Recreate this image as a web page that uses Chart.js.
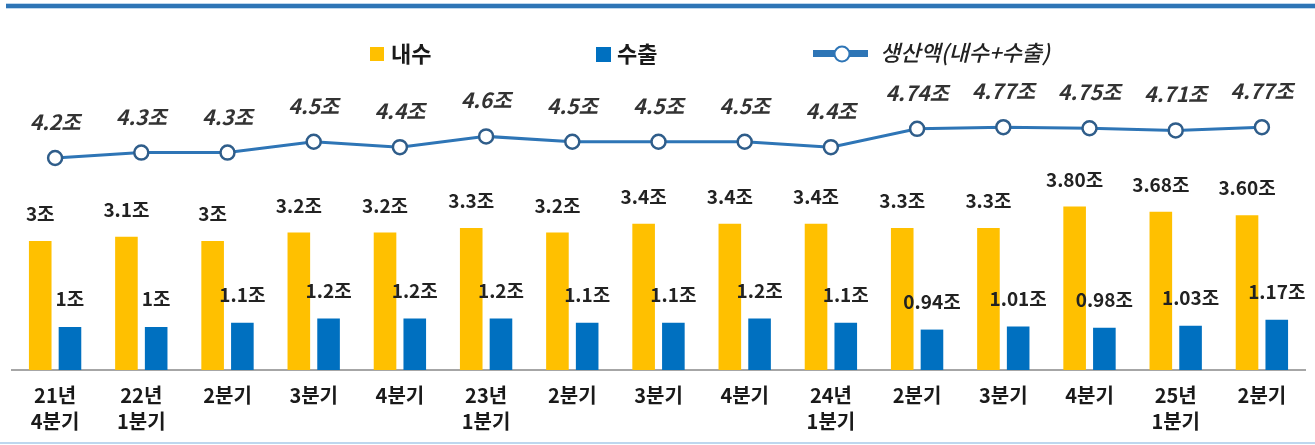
<!DOCTYPE html>
<html>
<head>
<meta charset="utf-8">
<script src="https://cdn.jsdelivr.net/npm/chart.js@4.4.1/dist/chart.umd.min.js"></script>
<style>
  html, body { margin: 0; padding: 0; background: #fff; }
  #wrap { position: relative; width: 1315px; height: 445px; }
</style>
</head>
<body>
<div id="wrap"><canvas id="prodChart" width="1315" height="445"></canvas></div>
<script>
const categories = [
  ["21년", "4분기"], ["22년", "1분기"], "2분기", "3분기", "4분기",
  ["23년", "1분기"], "2분기", "3분기", "4분기",
  ["24년", "1분기"], "2분기", "3분기", "4분기",
  ["25년", "1분기"], "2분기"
];
const domestic = [3, 3.1, 3, 3.2, 3.2, 3.3, 3.2, 3.4, 3.4, 3.4, 3.3, 3.3, 3.80, 3.68, 3.60];
const domesticLabels = ["3조", "3.1조", "3조", "3.2조", "3.2조", "3.3조", "3.2조", "3.4조", "3.4조", "3.4조", "3.3조", "3.3조", "3.80조", "3.68조", "3.60조"];
const exportsVal = [1, 1, 1.1, 1.2, 1.2, 1.2, 1.1, 1.1, 1.2, 1.1, 0.94, 1.01, 0.98, 1.03, 1.17];
const exportLabels = ["1조", "1조", "1.1조", "1.2조", "1.2조", "1.2조", "1.1조", "1.1조", "1.2조", "1.1조", "0.94조", "1.01조", "0.98조", "1.03조", "1.17조"];
const production = [4.2, 4.3, 4.3, 4.5, 4.4, 4.6, 4.5, 4.5, 4.5, 4.4, 4.74, 4.77, 4.75, 4.71, 4.77];
const productionLabels = ["4.2조", "4.3조", "4.3조", "4.5조", "4.4조", "4.6조", "4.5조", "4.5조", "4.5조", "4.4조", "4.74조", "4.77조", "4.75조", "4.71조", "4.77조"];

const FONT = "'Noto Sans CJK KR', 'Noto Sans', sans-serif";
const YELLOW = "#ffc000";
const BLUE = "#0070c0";
const LINE_BLUE = "#2e75b6";

// frame lines at top and bottom of the picture
const framePlugin = {
  id: "frame",
  beforeDraw(chart) {
    const ctx = chart.ctx;
    ctx.save();
    ctx.fillStyle = "#bdd7ee";
    ctx.fillRect(6, 3, 1309, 6);
    ctx.fillStyle = LINE_BLUE;
    ctx.fillRect(6, 4, 1309, 4);
    ctx.fillStyle = "#bdd7ee";
    ctx.fillRect(0, 442, 1315, 2);
    ctx.restore();
  },
};

// value labels above bars and line points
const valueLabelPlugin = {
  id: "valueLabels",
  afterDatasetsDraw(chart) {
    const ctx = chart.ctx;
    const sets = [
      { index: 0, labels: domesticLabels, offset: 27, font: `bold 19px ${FONT}`, color: "#222" },
      { index: 1, labels: exportLabels, offset: 28, font: `bold 19px ${FONT}`, color: "#222" },
      { index: 2, labels: productionLabels, offset: 36, font: `italic bold 21px ${FONT}`, color: "#333" },
    ];
    ctx.save();
    ctx.textAlign = "center";
    ctx.textBaseline = "middle";
    sets.forEach((s) => {
      const meta = chart.getDatasetMeta(s.index);
      ctx.font = s.font;
      ctx.fillStyle = s.color;
      meta.data.forEach((el, i) => {
        ctx.fillText(s.labels[i], el.x, el.y - s.offset);
      });
    });
    ctx.restore();
  },
};

// legend row drawn at the top
const legendPlugin = {
  id: "legendRow",
  afterDraw(chart) {
    const ctx = chart.ctx;
    const ds = chart.data.datasets;
    const cy = 54;
    ctx.save();
    ctx.textBaseline = "middle";
    ctx.textAlign = "left";

    ctx.fillStyle = YELLOW;
    ctx.fillRect(370, cy - 7, 14, 14);
    ctx.fillStyle = "#1a1a1a";
    ctx.font = `bold 22px ${FONT}`;
    ctx.fillText(ds[0].label, 391, cy);

    ctx.fillStyle = BLUE;
    ctx.fillRect(596, cy - 7, 15, 15);
    ctx.fillStyle = "#1a1a1a";
    ctx.fillText(ds[1].label, 617, cy);

    ctx.fillStyle = LINE_BLUE;
    ctx.fillRect(813, cy - 4, 55, 7);
    ctx.beginPath();
    ctx.arc(842, cy, 7.5, 0, Math.PI * 2);
    ctx.fillStyle = "#fff";
    ctx.fill();
    ctx.lineWidth = 2;
    ctx.strokeStyle = LINE_BLUE;
    ctx.stroke();
    ctx.fillStyle = "#222";
    ctx.font = `italic 500 22px ${FONT}`;
    ctx.fillText(ds[2].label, 880, cy - 1);
    ctx.restore();
  },
};

new Chart(document.getElementById("prodChart"), {
  type: "bar",
  data: {
    labels: categories,
    datasets: [
      {
        type: "bar",
        label: "내수",
        data: domestic,
        backgroundColor: YELLOW,
        yAxisID: "y",
        categoryPercentage: 0.69,
        barPercentage: 0.76,
      },
      {
        type: "bar",
        label: "수출",
        data: exportsVal,
        backgroundColor: BLUE,
        yAxisID: "y",
        categoryPercentage: 0.69,
        barPercentage: 0.76,
      },
      {
        type: "line",
        label: "생산액(내수+수출)",
        data: production,
        yAxisID: "y2",
        borderColor: LINE_BLUE,
        borderWidth: 3,
        tension: 0,
        pointRadius: 7,
        pointBackgroundColor: "#fff",
        pointBorderColor: "#2f5d8a",
        pointBorderWidth: 2.5,
      },
    ],
  },
  options: {
    responsive: false,
    animation: false,
    layout: { padding: { top: 80, left: 12, right: 10, bottom: 0 } },
    plugins: {
      legend: { display: false },
      tooltip: { enabled: false },
    },
    scales: {
      x: {
        type: "category",
        grid: { display: false, drawTicks: false },
        border: { display: true, color: "#a6a6a6", width: 2 },
        ticks: {
          color: "#1a1a1a",
          font: { family: FONT, size: 20, weight: "bold", lineHeight: 1.3 },
          padding: 12,
          maxRotation: 0,
          autoSkip: false,
        },
        afterFit(scale) { scale.height = 75; },
      },
      y: {
        display: false,
        min: 0,
        max: 6.744,
      },
      y2: {
        display: false,
        min: 0.274,
        max: 5.644,
      },
    },
  },
  plugins: [framePlugin, valueLabelPlugin, legendPlugin],
});
</script>
</body>
</html>
